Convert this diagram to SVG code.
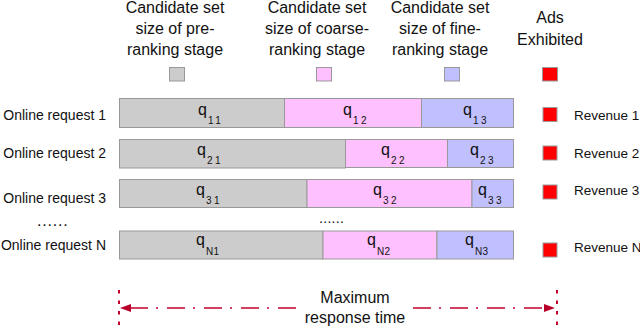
<svg xmlns="http://www.w3.org/2000/svg" width="640" height="328" viewBox="0 0 640 328">
<style>
text{font-family:"Liberation Sans",Arial,Helvetica,sans-serif;fill:#111}
.h{font-size:16px;text-anchor:middle}
.lab{font-size:14px;text-anchor:end}
.rev{font-size:13.5px}
.q{font-size:16px}
.sub{font-size:10px;letter-spacing:2.5px}
.sn{letter-spacing:0.3px}
.g{fill:#cccccc;stroke:#999999;stroke-width:1}
.p{fill:#ffc0ff;stroke:#999999;stroke-width:1}
.b{fill:#c0c0ff;stroke:#999999;stroke-width:1}
.r{fill:#ff0000;stroke:#999999;stroke-width:1}
.dots{font-size:16px;letter-spacing:0.8px}
.arr{stroke:#c4002c;stroke-width:1.6;fill:none;stroke-dasharray:18 8 2 9}
.vd{stroke:#c4002c;stroke-width:2;fill:none;stroke-dasharray:3.5 7}
</style>
<defs>
<marker id="ah" viewBox="0 0 11 8" refX="11" refY="4" markerWidth="11" markerHeight="8" markerUnits="userSpaceOnUse" orient="auto-start-reverse">
<path d="M0,0 L11,4 L0,8 Z" fill="#b8002a"/>
</marker>
</defs>
<rect width="640" height="328" fill="#ffffff"/>
<g id="legend-pre">
<text class="h" x="175" y="13">Candidate set</text>
<text class="h" x="175" y="34">size of pre-</text>
<text class="h" x="175" y="55">ranking stage</text>
<rect class="g" x="169.5" y="67.5" width="15" height="13.5"/>
</g>
<g id="legend-coarse">
<text class="h" x="317" y="13">Candidate set</text>
<text class="h" x="317" y="34">size of coarse-</text>
<text class="h" x="317" y="55">ranking stage</text>
<rect class="p" x="316.5" y="67.5" width="15" height="13.5"/>
</g>
<g id="legend-fine">
<text class="h" x="440" y="13">Candidate set</text>
<text class="h" x="440" y="34">size of fine-</text>
<text class="h" x="440" y="55">ranking stage</text>
<rect class="b" x="444.5" y="67.5" width="15" height="13.5"/>
</g>
<g id="legend-ads">
<text class="h" x="550" y="23">Ads</text>
<text class="h" x="550" y="45">Exhibited</text>
<rect class="r" x="542.5" y="67.5" width="15" height="13.5"/>
</g>
<g id="row1">
<text class="lab" x="106" y="120">Online request 1</text>
<rect class="g" x="119.5" y="98.5" width="165" height="29"/>
<rect class="p" x="284.5" y="98.5" width="137" height="29"/>
<rect class="b" x="421.5" y="98.5" width="92" height="29"/>
<text class="q" x="198" y="114.5">q<tspan class="sub" dx="1" dy="9.5">11</tspan></text>
<text class="q" x="343" y="114.5">q<tspan class="sub" dx="1" dy="9.5">12</tspan></text>
<text class="q" x="463" y="114.5">q<tspan class="sub" dx="1" dy="9.5">13</tspan></text>
<rect class="r" x="543" y="107.5" width="14" height="14"/>
<text class="rev" x="574" y="120">Revenue 1</text>
</g>
<g id="row2">
<text class="lab" x="106" y="158">Online request 2</text>
<rect class="g" x="119.5" y="139.5" width="226" height="28.5"/>
<rect class="p" x="345.5" y="139.5" width="102" height="28"/>
<rect class="b" x="447.5" y="139.5" width="66" height="28"/>
<text class="q" x="197" y="154.5">q<tspan class="sub" dx="1" dy="9.5">21</tspan></text>
<text class="q" x="381" y="154.5">q<tspan class="sub" dx="1" dy="9.5">22</tspan></text>
<text class="q" x="470" y="154.5">q<tspan class="sub" dx="1" dy="9.5">23</tspan></text>
<rect class="r" x="543" y="146" width="14" height="14"/>
<text class="rev" x="574" y="158">Revenue 2</text>
</g>
<g id="row3">
<text class="lab" x="106" y="203">Online request 3</text>
<rect class="g" x="119.5" y="179.5" width="187.5" height="28"/>
<rect class="p" x="307" y="179.5" width="165" height="28"/>
<rect class="b" x="472" y="179.5" width="41.5" height="28"/>
<text class="q" x="196" y="194.5">q<tspan class="sub" dx="1" dy="9.5">31</tspan></text>
<text class="q" x="373" y="194.5">q<tspan class="sub" dx="1" dy="9.5">32</tspan></text>
<text class="q" x="478" y="194.5">q<tspan class="sub" dx="1" dy="9.5">33</tspan></text>
<rect class="r" x="543" y="185" width="14" height="14"/>
<text class="rev" x="574" y="195">Revenue 3</text>
</g>
<g id="ellipsis">
<text class="dots" x="37" y="226">......</text>
<text class="dots" x="319" y="223" style="font-size:14px;letter-spacing:0.3px">......</text>
</g>
<g id="rowN">
<text class="lab" x="106" y="250">Online request N</text>
<rect class="g" x="119.5" y="231" width="203.5" height="28"/>
<rect class="p" x="323" y="231" width="114" height="28"/>
<rect class="b" x="437" y="231" width="76.5" height="28"/>
<text class="q" x="196" y="245">q<tspan class="sub sn" dx="1" dy="9.5">N1</tspan></text>
<text class="q" x="367" y="245">q<tspan class="sub sn" dx="1" dy="9.5">N2</tspan></text>
<text class="q" x="465" y="245">q<tspan class="sub sn" dx="1" dy="9.5">N3</tspan></text>
<rect class="r" x="543" y="243" width="14" height="14"/>
<text class="rev" x="574" y="252">Revenue N</text>
</g>
<g id="connectors">
<line class="vd" x1="119" y1="290" x2="119" y2="327"/>
<line class="vd" x1="557" y1="290" x2="557" y2="327"/>
<line x1="297" y1="308" x2="120" y2="308" stroke="none" marker-end="url(#ah)"/>
<line class="arr" x1="130" y1="308" x2="297" y2="308"/>
<line class="arr" x1="413" y1="308" x2="545" y2="308"/>
<line x1="413" y1="308" x2="555" y2="308" stroke="none" marker-end="url(#ah)"/>
</g>
<g id="label-max">
<text class="h" x="355" y="303">Maximum</text>
<text class="h" x="355" y="323">response time</text>
</g>
</svg>
